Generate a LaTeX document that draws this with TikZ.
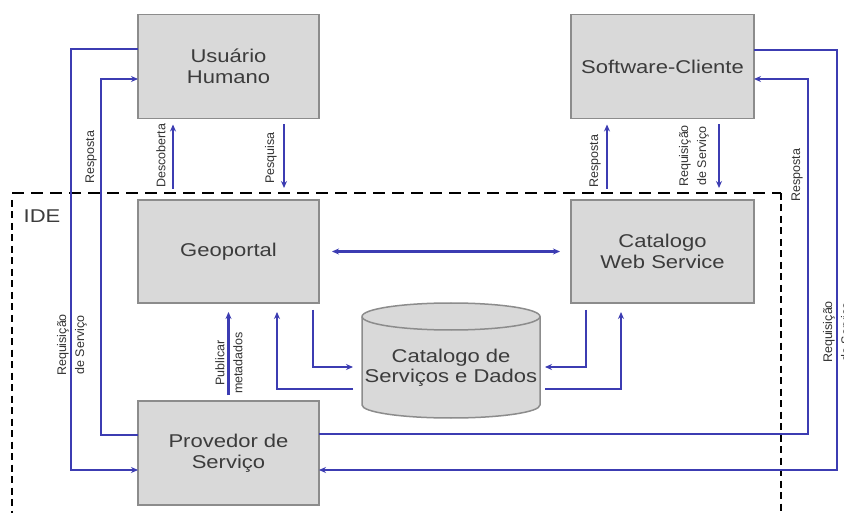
\documentclass[tikz,border=0pt]{standalone}
\usepackage{fontspec}
\setmainfont{Liberation Sans}[FakeStretch=1.19]
\newfontfamily\lblfont{Liberation Sans}
\usetikzlibrary{arrows.meta,calc}
\definecolor{flowblue}{RGB}{60,60,178}
\definecolor{boxfill}{RGB}{217,217,217}
\definecolor{boxline}{RGB}{140,140,140}
\definecolor{boxtext}{RGB}{60,60,60}
\begin{document}
\begin{tikzpicture}[x=1pt,y=-1pt,
  >={Stealth[length=7pt,width=6pt]},
  box/.style={draw=boxline, fill=boxfill, line width=1.5pt, minimum width=181pt,
    minimum height=104pt, inner sep=0pt, outer sep=0pt, text=boxtext,
    font=\fontsize{18.5}{21}\selectfont, align=center},
  flow/.style={draw=flowblue, line width=2.1pt, ->},
  lbl/.style={rotate=90, font=\lblfont\fontsize{12.5}{18}\selectfont, text=black!80,
    align=center, inner sep=0pt},
  idedashh/.style={line width=2.2pt, dash pattern=on 12pt off 7pt},
  idedashv/.style={line width=2.2pt, dash pattern=on 7pt off 4.5pt}]
\useasboundingbox (0,0) rectangle (844,513);
\fill[white] (0,0) rectangle (844,513);

% IDE boundary
\draw[idedashh] (12,193) -- (781,193);
\draw[idedashv] (12,200) -- (12,513);
\draw[idedashv] (781,193) -- (781,513);
\node[text=boxtext, font=\fontsize{18.5}{21}\selectfont, inner sep=0pt] (ide) at (42,216) {IDE};

% boxes
\node[box] (uh) at (228.5,66.5) {Usuário\\Humano};
\node[box,minimum width=183pt] (sc) at (662.5,66.5) {Software-Cliente};
\node[box,minimum height=103pt] (gp) at (228.5,251.5) {Geoportal};
\node[box,minimum width=183pt,minimum height=103pt] (ws) at (662.5,251.5) {Catalogo\\Web Service};
\node[box] (pv) at (228.5,453) {Provedor de\\Serviço};

% database cylinder
\draw[draw=boxline, fill=boxfill, line width=1.5pt]
  (362,316.5) -- (362,405) arc[start angle=180, end angle=0, x radius=89, y radius=13]
  -- (540,316.5) arc[start angle=0, end angle=-180, x radius=89, y radius=13.5] -- cycle;
\draw[draw=boxline, line width=1.5pt] (362,316.5) arc[start angle=180, end angle=0, x radius=89, y radius=13.5];
\node[text=boxtext, font=\fontsize{18.5}{20}\selectfont, align=center, inner sep=0pt] (db) at (451,368) {Catalogo de\\Serviços e Dados};
\coordinate (dbL1) at (353,367);
\coordinate (dbL2) at (353,389);
\coordinate (dbR1) at (545,367);
\coordinate (dbR2) at (545,389);

% outer loops
\draw[flow] ([yshift=17.5pt]uh.west) -- ++(-67,0) |- ([yshift=-17pt]pv.west);
\draw[flow] ([yshift=18pt]pv.west) -- ++(-37,0) |- ([yshift=-12.5pt]uh.west);
\draw[flow] ([yshift=16.5pt]sc.east) -- ++(83,0) |- ([yshift=-17pt]pv.east);
\draw[flow] ([yshift=19pt]pv.east) -- ++(489,0) |- ([yshift=-12.5pt]sc.east);

% vertical short arrows
\draw[flow] ([xshift=-55.5pt,yshift=11pt]gp.north) -- ([xshift=-55.5pt,yshift=-6pt]uh.south);
\draw[flow] ([xshift=55.5pt,yshift=-6pt]uh.south) -- ([xshift=55.5pt,yshift=12pt]gp.north);
\draw[flow] ([xshift=-55.5pt,yshift=11pt]ws.north) -- ([xshift=-55.5pt,yshift=-6pt]sc.south);
\draw[flow] ([xshift=56.5pt,yshift=-6pt]sc.south) -- ([xshift=56.5pt,yshift=12pt]ws.north);

% geoportal <-> catalog web service
\draw[flow,<->] ([xshift=13pt]gp.east) -- ([xshift=-11pt]ws.west);

% publicar metadados
\draw[flow] ([yshift=6pt]pv.north) -- ([yshift=-9pt]gp.south);

% database connections
\draw[flow] ([xshift=84.5pt,yshift=-7pt]gp.south) |- (dbL1);
\draw[flow] (dbL2) -| ([xshift=48.5pt,yshift=-9pt]gp.south);
\draw[flow] ([xshift=-76.5pt,yshift=-7pt]ws.south) |- (dbR1);
\draw[flow] (dbR2) -| ([xshift=-41.5pt,yshift=-9pt]ws.south);

% labels
\node[lbl] (l1) at (72,345) {Requisição\\de Serviço};
\node[lbl] (l2) at (91,157) {Resposta};
\node[lbl] (l3) at (161,156) {Descoberta};
\node[lbl] (l4) at (271,158) {Pesquisa};
\node[lbl] (l5) at (595,161) {Resposta};
\node[lbl] (l6) at (694,156) {Requisição\\de Serviço};
\node[lbl] (l7) at (797,175) {Resposta};
\node[lbl] (l8) at (838,332) {Requisição\\de Serviço};
\node[lbl] (l9) at (229,363) {Publicar\\metadados};
\end{tikzpicture}
\end{document}
